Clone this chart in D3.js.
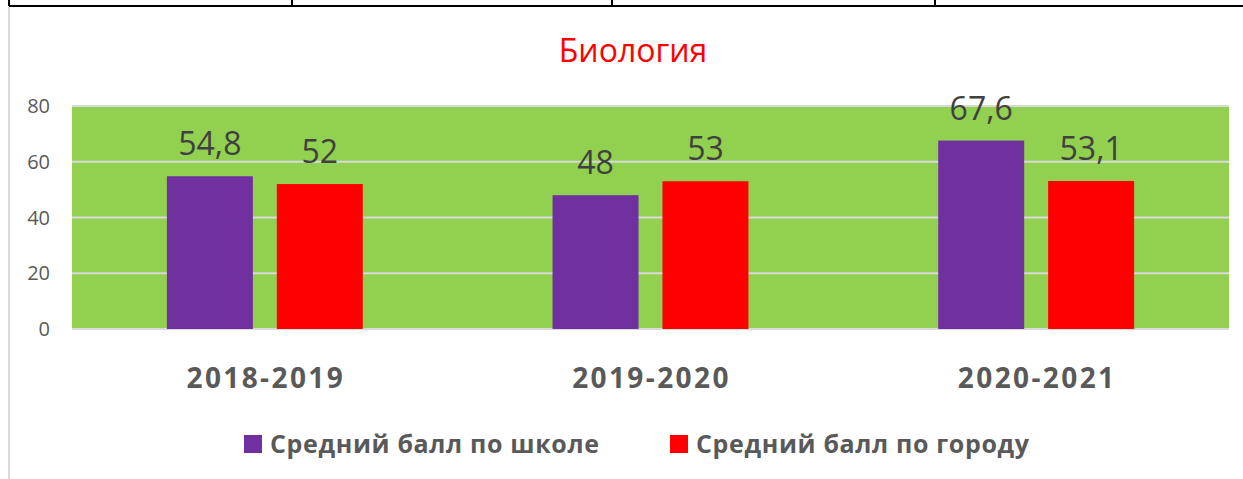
<!DOCTYPE html>
<html>
<head>
<meta charset="utf-8">
<script src="https://cdn.jsdelivr.net/npm/d3@7"></script>
<style>
  body { margin: 0; background: #fff; }
  svg { display: block; font-family: "Open Sans", sans-serif; }
</style>
</head>
<body>
<svg width="1243" height="479"></svg>
<script>
// chart data
const years = ['2018-2019', '2019-2020', '2020-2021'];
const seriesNames = ['Средний балл по школе', 'Средний балл по городу'];
const schoolScores = [54.8, 48, 67.6];
const cityScores = [52, 53, 53.1];
const yTicks = [0, 20, 40, 60, 80];
const colors = ['#7030a0', '#ff0000'];

const svg = d3.select('svg');

// bits of the table above the chart
svg.append('line').attr('x1', 9).attr('x2', 1243).attr('y1', 6).attr('y2', 6)
    .attr('stroke', '#000').attr('stroke-width', 2);
[9, 292, 612, 935].forEach(x => {
    svg.append('line').attr('x1', x).attr('x2', x).attr('y1', 0).attr('y2', 6)
        .attr('stroke', '#000').attr('stroke-width', 2);
});
svg.append('line').attr('x1', 9).attr('x2', 9).attr('y1', 7).attr('y2', 479)
    .attr('stroke', '#d9d9d9').attr('stroke-width', 2);

// title
svg.append('text').attr('x', 633).attr('y', 62).attr('text-anchor', 'middle')
    .attr('fill', '#ff0000').attr('font-size', 32).text('Биология');

const plotLeft = 72, plotRight = 1229, plotTop = 106, plotBottom = 329;

const x0 = d3.scaleBand().domain(years).range([plotLeft, plotRight])
    .paddingInner(0.492).paddingOuter(0.246);
const x1 = d3.scaleBand().domain(seriesNames).range([0, x0.bandwidth()])
    .paddingInner(0.218);
const y = d3.scaleLinear().domain([0, 80]).range([plotBottom, plotTop]);

// green plot area
svg.append('rect').attr('x', plotLeft).attr('y', plotTop)
    .attr('width', plotRight - plotLeft).attr('height', plotBottom - plotTop)
    .attr('fill', '#92d050');

// gridlines
svg.append('g').selectAll('line').data(yTicks).join('line')
    .attr('x1', plotLeft).attr('x2', plotRight)
    .attr('y1', d => y(d)).attr('y2', d => y(d))
    .attr('stroke', '#d9d9d9').attr('stroke-width', 2);

// y labels
svg.append('g').selectAll('text').data(yTicks).join('text')
    .attr('x', 50).attr('y', d => y(d) + 7)
    .attr('text-anchor', 'end').attr('fill', '#595959').attr('font-size', 20)
    .text(d => d);

const rows = years.map((yr, i) => ({
    year: yr,
    values: [schoolScores[i], cityScores[i]]
}));

const fmt = v => String(v).replace('.', ',');

const groups = svg.append('g').selectAll('g').data(rows).join('g')
    .attr('transform', d => `translate(${x0(d.year)},0)`);

groups.selectAll('rect').data(d => d.values.map((v, k) => ({ name: seriesNames[k], v, k })))
    .join('rect')
    .attr('x', d => x1(d.name)).attr('width', x1.bandwidth())
    .attr('y', d => y(d.v)).attr('height', d => y(0) - y(d.v))
    .attr('fill', d => colors[d.k]);

groups.selectAll('text').data(d => d.values.map((v, k) => ({ name: seriesNames[k], v, k })))
    .join('text')
    .attr('x', d => x1(d.name) + x1.bandwidth() / 2)
    .attr('y', d => y(d.v) - 21)
    .attr('text-anchor', 'middle').attr('fill', '#404040').attr('font-size', 32)
    .text(d => fmt(d.v));

// category labels
svg.append('g').selectAll('text').data(years).join('text')
    .attr('x', d => x0(d) + x0.bandwidth() / 2 + 1).attr('y', 388)
    .attr('text-anchor', 'middle').attr('fill', '#595959')
    .attr('font-size', 28).attr('font-weight', 'bold')
    .attr('letter-spacing', 2.4)
    .text(d => d);

// legend
const legendX = [244, 670];
const legend = svg.append('g').selectAll('g').data(seriesNames).join('g')
    .attr('transform', (d, i) => `translate(${legendX[i]},435)`);
legend.append('rect').attr('width', 18).attr('height', 18)
    .attr('fill', (d, i) => colors[i]);
legend.append('text').attr('x', 26).attr('y', 18)
    .attr('fill', '#595959').attr('font-size', 25).attr('font-weight', 'bold')
    .attr('letter-spacing', 0.65)
    .text(d => d);
</script>
</body>
</html>
